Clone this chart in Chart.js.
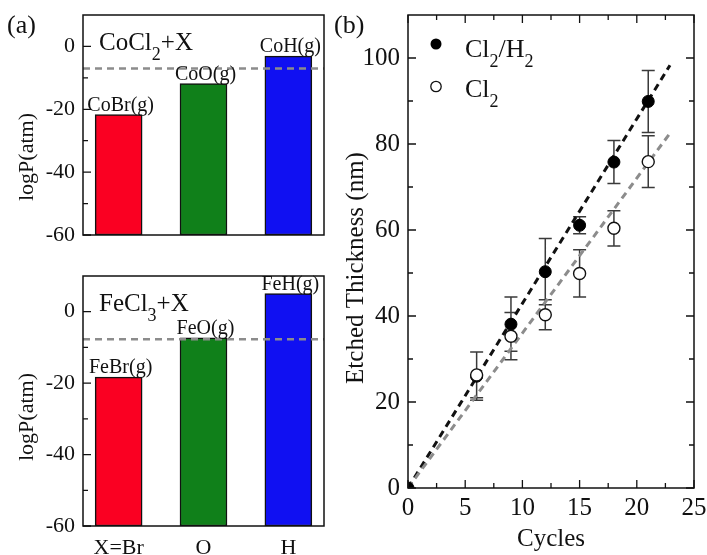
<!DOCTYPE html>
<html>
<head>
<meta charset="utf-8">
<script src="https://cdn.jsdelivr.net/npm/chart.js@4.4.0/dist/chart.umd.min.js"></script>
<style>
  body { margin: 0; background: #fff; }
  #wrap { position: relative; width: 707px; height: 555px; }
  canvas { position: absolute; }
</style>
</head>
<body>
<div id="wrap">
  <canvas id="coChart" width="340" height="270" style="left:0;top:0"></canvas>
  <canvas id="feChart" width="340" height="285" style="left:0;top:270px"></canvas>
  <canvas id="etchChart" width="377" height="555" style="left:330px;top:0"></canvas>
</div>
<script>
// (a) equilibrium partial pressures of the volatile products
const xLabels = ['X=Br', 'O', 'H']
const coNames = ['CoBr(g)', 'CoO(g)', 'CoH(g)']
const coLogP = [-21.7, -11.8, -3.1]
const feNames = ['FeBr(g)', 'FeO(g)', 'FeH(g)']
const feLogP = [-18.3, -7.3, 5.1]
const coLimit = -7.0
const feLimit = -7.7
const pTicks = [-60, -40, -20, 0]
const pMinor = [-50, -30, -10]

// (b) etched thickness vs. number of cycles
const h2Cycles = [0, 6, 9, 12, 15, 18, 21]
const h2Thick = [0, 26, 38.1, 50.3, 61.1, 75.8, 89.9]
const h2Err = [0, 5.6, 6.3, 7.7, 2.0, 5.0, 7.2]
const cl2Cycles = [6, 9, 12, 15, 18, 21]
const cl2Thick = [26.3, 35.3, 40.3, 49.9, 60.4, 75.9]
const cl2Err = [5.3, 5.5, 3.5, 5.5, 4.1, 6.0]
const fitX = [0, 22.9]
const h2Fit = [0, 98.3]
const cl2Fit = [0, 82.5]
const tYTicks = [0, 20, 40, 60, 80, 100]
const tYMinor = [10, 30, 50, 70, 90]
const tXTicks = [0, 5, 10, 15, 20, 25]
const tXMinor = [2.5, 7.5, 12.5, 17.5, 22.5]

const barColors = ['#fa0022', '#10801a', '#1010f2']
const SERIF = "'Liberation Serif', 'Times New Roman', serif"
const INK = '#111'

// text with "_n" subscripts, e.g. CoCl_2+X
function drawRich(ctx, text, x, y, size) {
  const parts = text.split(/_(\d)/)
  const sub = Math.round(size * 0.7)
  ctx.textAlign = 'left'
  ctx.textBaseline = 'alphabetic'
  parts.forEach((p, i) => {
    if (i % 2) {
      ctx.font = sub + 'px ' + SERIF
      ctx.fillText(p, x, y + size * 0.38)
    } else {
      ctx.font = size + 'px ' + SERIF
      ctx.fillText(p, x, y)
    }
    x += ctx.measureText(p).width
  })
}

function vText(ctx, text, x, y, size) {
  ctx.save()
  ctx.translate(x, y)
  ctx.rotate(-Math.PI / 2)
  ctx.font = size + 'px ' + SERIF
  ctx.textAlign = 'center'
  ctx.textBaseline = 'middle'
  ctx.fillText(text, 0, 0)
  ctx.restore()
}

// box around the plot area with inward ticks
const framePlugin = {
  id: 'frame',
  afterDatasetsDraw(chart, args, opts) {
    const { ctx, chartArea: a, scales } = chart
    ctx.save()
    ctx.strokeStyle = INK
    ctx.lineWidth = 1.5
    ctx.strokeRect(a.left, a.top, a.right - a.left, a.bottom - a.top)
    ctx.lineWidth = 1.3
    ctx.beginPath()
    const marks = (vals, len, side) => {
      vals.forEach(v => {
        if (side == 'left' || side == 'right') {
          const py = scales.y.getPixelForValue(v)
          const x0 = side == 'left' ? a.left : a.right
          ctx.moveTo(x0, py)
          ctx.lineTo(side == 'left' ? x0 + len : x0 - len, py)
        } else {
          const px = scales.x.getPixelForValue(v)
          const y0 = side == 'bottom' ? a.bottom : a.top
          ctx.moveTo(px, y0)
          ctx.lineTo(px, side == 'bottom' ? y0 - len : y0 + len)
        }
      })
    }
    opts.sides.forEach(s => {
      const isY = s == 'left' || s == 'right'
      marks(isY ? opts.yMajor : opts.xMajor, 8, s)
      marks(isY ? opts.yMinor : opts.xMinor, 5, s)
    })
    ctx.stroke()
    ctx.restore()
  }
}

function pressureChart(id, names, values, limit, title, showX, pad, yTitle) {
  const xMin = 0.58, xMax = 3.42
  const labelPlugin = {
    id: 'labels',
    afterDraw(chart) {
      const ctx = chart.ctx
      const bars = chart.getDatasetMeta(1).data
      ctx.save()
      ctx.fillStyle = INK
      ctx.font = '20px ' + SERIF
      ctx.textAlign = 'center'
      ctx.textBaseline = 'alphabetic'
      bars.forEach((b, i) => ctx.fillText(names[i], b.x + 2, b.y - 4))
      drawRich(ctx, title.text, chart.chartArea.left + 16, chart.chartArea.top + 35, 25)
      if (title.panel) {
        ctx.font = '26px ' + SERIF
        ctx.textAlign = 'left'
        ctx.fillText(title.panel, 7, 33)
      }
      vText(ctx, 'logP(atm)', 27, yTitle, 22)
      ctx.restore()
    }
  }
  return new Chart(document.getElementById(id), {
    type: 'bar',
    data: {
      datasets: [{
        type: 'line',
        data: [{ x: xMin, y: limit }, { x: xMax, y: limit }],
        borderColor: '#8c8c8c',
        borderWidth: 2.5,
        borderDash: [7, 5],
        pointRadius: 0,
        order: 0
      }, {
        data: values.map((v, i) => ({ x: i + 1, y: v })),
        backgroundColor: barColors,
        borderColor: INK,
        borderWidth: 1.5,
        borderSkipped: false,
        barThickness: 47,
        base: -60,
        order: 1
      }]
    },
    options: {
      responsive: false,
      animation: false,
      layout: { padding: pad },
      plugins: {
        legend: { display: false },
        tooltip: { enabled: false },
        frame: { sides: ['left'], yMajor: pTicks, yMinor: pMinor, xMajor: [], xMinor: [] }
      },
      scales: {
        x: {
          type: 'linear', min: xMin, max: xMax, display: showX, offset: false,
          afterBuildTicks: s => { s.ticks = [1, 2, 3].map(v => ({ value: v })) },
          ticks: { callback: v => xLabels[v - 1], font: { family: SERIF, size: 22 }, color: INK, padding: 9, maxRotation: 0 },
          grid: { display: false, drawTicks: false },
          border: { display: false },
          afterFit: s => { s.height = 29; s.paddingLeft = 0; s.paddingRight = 0 }
        },
        y: {
          min: -60, max: 10,
          afterBuildTicks: s => { s.ticks = pTicks.map(v => ({ value: v })) },
          ticks: { font: { family: SERIF, size: 22 }, color: INK, padding: 8 },
          grid: { display: false, drawTicks: false },
          border: { display: false },
          afterFit: s => { s.width = 83; s.paddingTop = 0; s.paddingBottom = 0 }
        }
      }
    },
    plugins: [framePlugin, labelPlugin]
  })
}

pressureChart('coChart', coNames, coLogP, coLimit, { text: 'CoCl_2+X', panel: '(a)' }, false,
  { left: 0, top: 15, right: 16, bottom: 6 }, 157)
pressureChart('feChart', feNames, feLogP, feLimit, { text: 'FeCl_3+X' }, true,
  { left: 0, top: 6, right: 16, bottom: 0 }, 147)

// error bars sit under the markers
const errorPlugin = {
  id: 'errors',
  beforeDatasetsDraw(chart) {
    const { ctx, scales: { x, y } } = chart
    const sets = [[h2Cycles, h2Thick, h2Err], [cl2Cycles, cl2Thick, cl2Err]]
    ctx.save()
    ctx.strokeStyle = '#3a3a3a'
    ctx.lineWidth = 1.5
    ctx.beginPath()
    sets.forEach(([xs, ys, es]) => {
      xs.forEach((c, i) => {
        if (!es[i]) return
        const px = x.getPixelForValue(c)
        const top = y.getPixelForValue(ys[i] + es[i])
        const bot = y.getPixelForValue(ys[i] - es[i])
        ctx.moveTo(px, top); ctx.lineTo(px, bot)
        ctx.moveTo(px - 6.5, top); ctx.lineTo(px + 6.5, top)
        ctx.moveTo(px - 6.5, bot); ctx.lineTo(px + 6.5, bot)
      })
    })
    ctx.stroke()
    ctx.restore()
  }
}

const etchText = {
  id: 'etchText',
  afterDraw(chart) {
    const ctx = chart.ctx
    const a = chart.chartArea
    ctx.save()
    ctx.fillStyle = INK
    ctx.font = '26px ' + SERIF
    ctx.textAlign = 'left'
    ctx.fillText('(b)', 4, 33)
    vText(ctx, 'Etched Thickness (nm)', 26, 268, 25)
    // legend
    ctx.beginPath()
    ctx.arc(a.left + 28, a.top + 29, 5.5, 0, Math.PI * 2)
    ctx.fillStyle = '#000'
    ctx.fill()
    ctx.beginPath()
    ctx.arc(a.left + 28, a.top + 71.5, 5.2, 0, Math.PI * 2)
    ctx.fillStyle = '#fff'
    ctx.fill()
    ctx.strokeStyle = INK
    ctx.lineWidth = 1.3
    ctx.stroke()
    ctx.fillStyle = INK
    drawRich(ctx, 'Cl_2/H_2', a.left + 57, a.top + 42, 26)
    drawRich(ctx, 'Cl_2', a.left + 57, a.top + 82, 26)
    ctx.restore()
  }
}

const pts = (xs, ys) => xs.map((v, i) => ({ x: v, y: ys[i] }))

new Chart(document.getElementById('etchChart'), {
  type: 'scatter',
  data: {
    datasets: [{
      data: pts(fitX, h2Fit), showLine: true, borderColor: '#111', borderWidth: 3,
      borderDash: [7, 5], pointRadius: 0, order: 3
    }, {
      data: pts(fitX, cl2Fit), showLine: true, borderColor: '#8c8c8c', borderWidth: 3,
      borderDash: [7, 5], pointRadius: 0, order: 2
    }, {
      data: pts(h2Cycles, h2Thick), pointRadius: 6, backgroundColor: '#000',
      borderColor: '#000', borderWidth: 1, order: 1
    }, {
      data: pts(cl2Cycles, cl2Thick), pointRadius: 6, backgroundColor: '#fff',
      borderColor: INK, borderWidth: 1.4, order: 0
    }]
  },
  options: {
    responsive: false,
    animation: false,
    layout: { padding: { left: 0, top: 15, right: 13, bottom: 0 } },
    plugins: {
      legend: { display: false },
      tooltip: { enabled: false },
      frame: { sides: ['left', 'right', 'top', 'bottom'], yMajor: tYTicks, yMinor: tYMinor, xMajor: tXTicks, xMinor: tXMinor }
    },
    scales: {
      x: {
        type: 'linear', min: 0, max: 25,
        afterBuildTicks: s => { s.ticks = tXTicks.map(v => ({ value: v })) },
        ticks: { font: { family: SERIF, size: 25 }, color: INK, padding: 5, maxRotation: 0 },
        grid: { display: false, drawTicks: false },
        border: { display: false },
        title: { display: true, text: 'Cycles', font: { family: SERIF, size: 25 }, color: INK, padding: { top: 0, bottom: 1 } },
        afterFit: s => { s.height = 67; s.paddingLeft = 0; s.paddingRight = 0 }
      },
      y: {
        min: 0, max: 110,
        afterBuildTicks: s => { s.ticks = tYTicks.map(v => ({ value: v })) },
        ticks: { font: { family: SERIF, size: 25 }, color: INK, padding: 8 },
        grid: { display: false, drawTicks: false },
        border: { display: false },
        afterFit: s => { s.width = 78; s.paddingTop = 0; s.paddingBottom = 0 }
      }
    }
  },
  plugins: [framePlugin, errorPlugin, etchText]
})
</script>
</body>
</html>
